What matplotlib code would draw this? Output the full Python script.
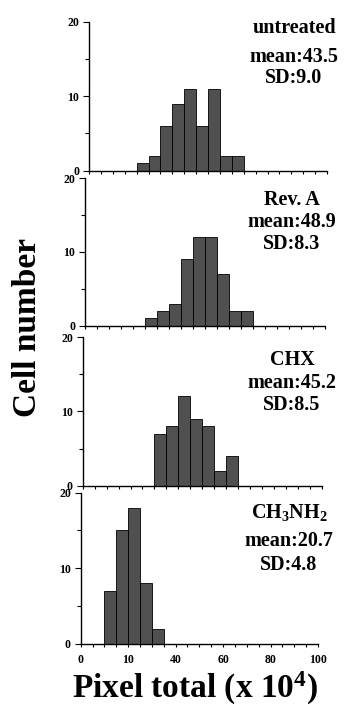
import matplotlib.pyplot as plt
import numpy as np

plt.rcParams["font.family"] = ["Liberation Serif", "DejaVu Serif"]
plt.rcParams["font.weight"] = "bold"
plt.rcParams["mathtext.fontset"] = "custom"
plt.rcParams["mathtext.rm"] = "Liberation Serif:bold"
plt.rcParams["mathtext.bf"] = "Liberation Serif:bold"
plt.rcParams["mathtext.it"] = "Liberation Serif:bold"

# Histogram data: bin left edges (x 10^4 pixels) and cell counts, bin width 5
untreated_edges = [20, 25, 30, 35, 40, 45, 50, 55, 60]
untreated_counts = [1, 2, 6, 9, 11, 6, 11, 2, 2]

reva_edges = [25, 30, 35, 40, 45, 50, 55, 60, 65]
reva_counts = [1, 2, 3, 9, 12, 12, 7, 2, 2]

chx_edges = [30, 35, 40, 45, 50, 55, 60]
chx_counts = [7, 8, 12, 9, 8, 2, 4]

ch3nh2_edges = [10, 15, 20, 25, 30]
ch3nh2_counts = [7, 15, 18, 8, 2]

panel_labels = ["untreated", "Rev. A", "CHX", r"CH$_3$NH$_2$"]
panel_means = ["mean:43.5", "mean:48.9", "mean:45.2", "mean:20.7"]
panel_sds = ["SD:9.0", "SD:8.3", "SD:8.5", "SD:4.8"]

x_tick_pos = [0, 20, 40, 60, 80, 100]
x_tick_labels = ["0", "10", "40", "60", "80", "100"]
y_tick_pos = [0, 10, 20]

W, H = 344, 709
fig = plt.figure(figsize=(W / 100, H / 100), dpi=100)

# panel boxes in pixels: left, top, right, bottom (scan is slightly skewed)
boxes = [
    (89, 21.7, 327, 170.7),
    (85, 178.3, 325, 325.7),
    (82.7, 337, 321.7, 485.7),
    (80.7, 492.6, 318, 644),
]
# text anchor: center x, baselines of the three lines
text_pos = [
    (294, 33, 61.7, 83),
    (292, 205, 226.7, 249),
    (292, 365, 388.3, 410),
    (289, 518, 545.7, 570),
]

data = [
    (untreated_edges, untreated_counts),
    (reva_edges, reva_counts),
    (chx_edges, chx_counts),
    (ch3nh2_edges, ch3nh2_counts),
]

for i, ((edges, counts), box) in enumerate(zip(data, boxes)):
    l, t, r, b = box
    ax = fig.add_axes([l / W, 1 - b / H, (r - l) / W, (b - t) / H])
    ax.patch.set_alpha(0)
    ax.bar(edges, counts, width=5, align="edge", color="#505050",
           edgecolor="black", linewidth=0.6)
    ax.set_xlim(0, 100)
    ax.set_ylim(0, 20)
    for s in ["top", "right"]:
        ax.spines[s].set_visible(False)
    for s in ["left", "bottom"]:
        ax.spines[s].set_linewidth(1.0)
    ax.set_yticks(y_tick_pos)
    ax.set_yticks([5, 15], minor=True)
    ax.set_xticks(x_tick_pos)
    ax.set_xticks(np.arange(0, 101, 5), minor=True)
    ax.tick_params(axis="y", which="major", direction="out", length=4,
                   width=0.8, labelsize=8.5, pad=3)
    ax.tick_params(axis="y", which="minor", direction="out", length=3, width=0.8)
    ax.tick_params(axis="x", which="both", direction="out", length=2.5,
                   width=0.8, labelsize=8.5, pad=5)
    if i == 3:
        ax.set_xticklabels(x_tick_labels)
    else:
        ax.set_xticklabels([])
    for lab in ax.get_xticklabels() + ax.get_yticklabels():
        lab.set_fontweight("bold")

    cx, y1, y2, y3 = text_pos[i]
    for txt, yy in zip([panel_labels[i], panel_means[i], panel_sds[i]], [y1, y2, y3]):
        fig.text(cx / W, 1 - yy / H, txt, ha="center", va="baseline",
                 fontsize=14.5, fontweight="bold")

fig.text(28 / W, 1 - 328 / H, "Cell number", rotation=90, ha="center",
         va="center", fontsize=24, fontweight="bold")
fig.text(195 / W, 1 - 698 / H, r"Pixel total (x 10$^4$)", ha="center",
         va="baseline", fontsize=24, fontweight="bold")

fig.savefig("out.png", dpi=100)
